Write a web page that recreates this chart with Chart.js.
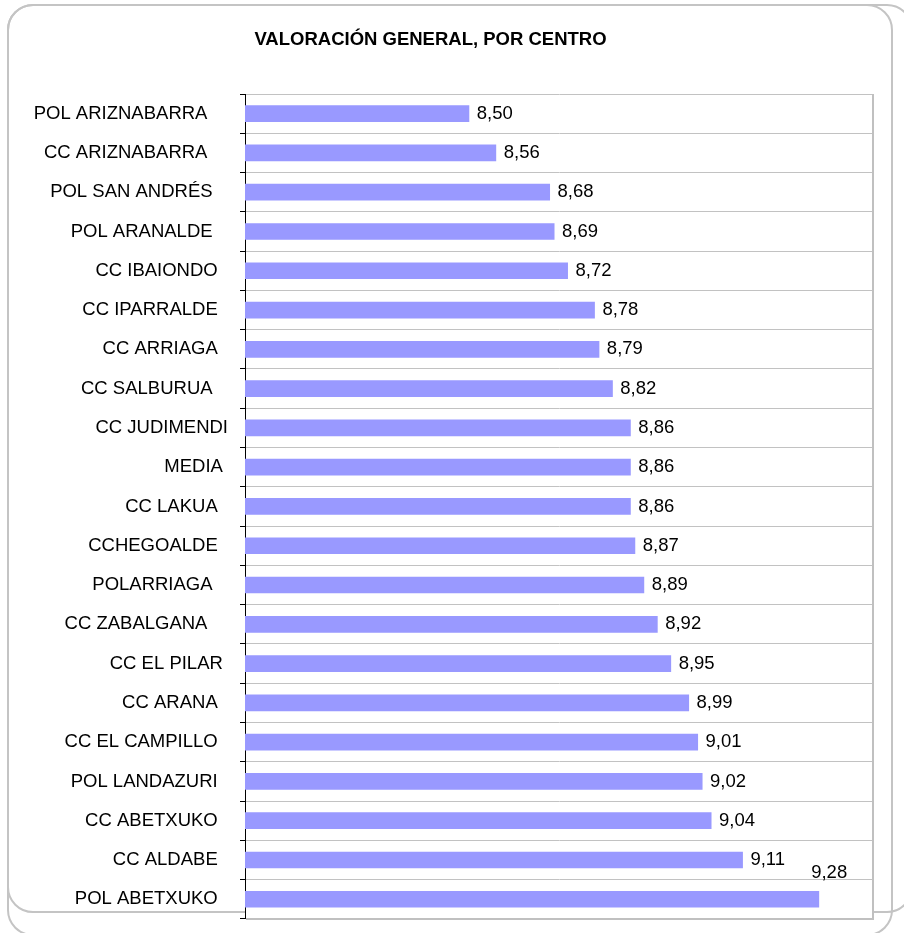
<!DOCTYPE html>
<html>
<head>
<meta charset="utf-8">
<script src="https://cdn.jsdelivr.net/npm/chart.js@4.4.1/dist/chart.umd.min.js"></script>
<style>
html, body { margin: 0; padding: 0; background: #ffffff; overflow: hidden; width: 904px; height: 933px; }
#wrap { position: relative; width: 904px; height: 933px; overflow: hidden; }
.frame { position: absolute; border: 2px solid #c4c4c4; border-radius: 26px; box-sizing: border-box; }
#f1 { left: 7px; top: 4px; width: 906px; height: 909px; }
#f2 { left: 7px; top: 4px; width: 886px; height: 932px; }
#cv { position: absolute; left: -20px; top: 0; }
</style>
</head>
<body>
<div id="wrap">
  <div class="frame" id="f1"></div>
  <div class="frame" id="f2"></div>
  <canvas id="cv" width="897" height="942" style="width:897px;height:942px;"></canvas>
</div>
<script>
// ---- data ----
const chartTitle = 'VALORACIÓN GENERAL, POR CENTRO';
const categories = [
  'POL ARIZNABARRA    ',
  'CC ARIZNABARRA    ',
  'POL SAN ANDRÉS   ',
  'POL ARANALDE   ',
  'CC IBAIONDO  ',
  'CC IPARRALDE  ',
  'CC ARRIAGA  ',
  'CC SALBURUA   ',
  'CC JUDIMENDI',
  'MEDIA ',
  'CC LAKUA  ',
  'CCHEGOALDE  ',
  'POLARRIAGA   ',
  'CC ZABALGANA    ',
  'CC EL PILAR ',
  'CC ARANA  ',
  'CC EL CAMPILLO  ',
  'POL LANDAZURI  ',
  'CC ABETXUKO  ',
  'CC ALDABE  ',
  'POL ABETXUKO  '
];
const values = [8.50, 8.56, 8.68, 8.69, 8.72, 8.78, 8.79, 8.82, 8.86, 8.86, 8.86,
                8.87, 8.89, 8.92, 8.95, 8.99, 9.01, 9.02, 9.04, 9.11, 9.28];
const axisMin = 8;
const axisMax = 9.4;

// ---- styling ----
const FONT = "'Liberation Sans', Arial, Helvetica, sans-serif";

const plotFrame = {
  id: 'plotFrame',
  beforeDraw(chart) {
    const { ctx, chartArea: a } = chart;
    ctx.save();
    ctx.fillStyle = '#ffffff';
    ctx.fillRect(a.left, a.top, a.right - a.left, a.bottom - a.top);
    ctx.restore();
  },
  afterDraw(chart) {
    const { ctx, chartArea: a } = chart;
    ctx.save();
    ctx.strokeStyle = '#c0c0c0';
    ctx.lineWidth = 2;
    ctx.beginPath();
    ctx.moveTo(a.left + 1, a.bottom);
    ctx.lineTo(a.right, a.bottom);
    ctx.lineTo(a.right, a.top);
    ctx.stroke();
    ctx.restore();
  }
};

const valueLabels = {
  id: 'valueLabels',
  afterDatasetsDraw(chart, args, opts) {
    const ctx = chart.ctx;
    const meta = chart.getDatasetMeta(0);
    const data = chart.data.datasets[0].data;
    ctx.save();
    ctx.font = opts.font;
    ctx.fillStyle = opts.color;
    ctx.textAlign = 'left';
    ctx.textBaseline = 'middle';
    meta.data.forEach((bar, i) => {
      const txt = data[i].toFixed(2).replace('.', ',');
      let dx = opts.gap, dy = 0;
      if (i === meta.data.length - 1) { dx = opts.lastDx; dy = opts.lastDy; }
      ctx.fillText(txt, bar.x + dx, bar.y + dy);
    });
    ctx.restore();
  }
};

new Chart(document.getElementById('cv'), {
  type: 'bar',
  data: {
    labels: categories,
    datasets: [{
      data: values,
      backgroundColor: '#9999ff',
      borderWidth: 0,
      barPercentage: 0.425,
      categoryPercentage: 1
    }]
  },
  options: {
    indexAxis: 'y',
    responsive: false,
    animation: false,
    layout: { padding: { left: 8, right: 4, top: 0, bottom: 0 } },
    plugins: {
      legend: { display: false },
      tooltip: { enabled: false },
      title: {
        display: true,
        text: chartTitle,
        color: '#000000',
        font: { family: FONT, size: 18.5, weight: 'bold' },
        padding: { top: 28.5, bottom: 43.3 }
      },
      valueLabels: {
        font: "18.5px " + FONT,
        color: '#000000',
        gap: 7.5,
        lastDx: -8,
        lastDy: -26
      }
    },
    scales: {
      x: {
        display: false,
        min: axisMin,
        max: axisMax
      },
      y: {
        afterFit(scale) { scale.width = 257; },
        grid: {
          offset: true,
          color: '#c2c2c2',
          lineWidth: 1,
          tickColor: '#000000',
          tickLength: 5,
          drawTicks: true
        },
        border: { display: true, color: '#000000', width: 1 },
        ticks: {
          color: '#000000',
          padding: 12,
          font: { family: FONT, size: 18.5 }
        }
      }
    }
  },
  plugins: [plotFrame, valueLabels]
});
</script>
</body>
</html>
